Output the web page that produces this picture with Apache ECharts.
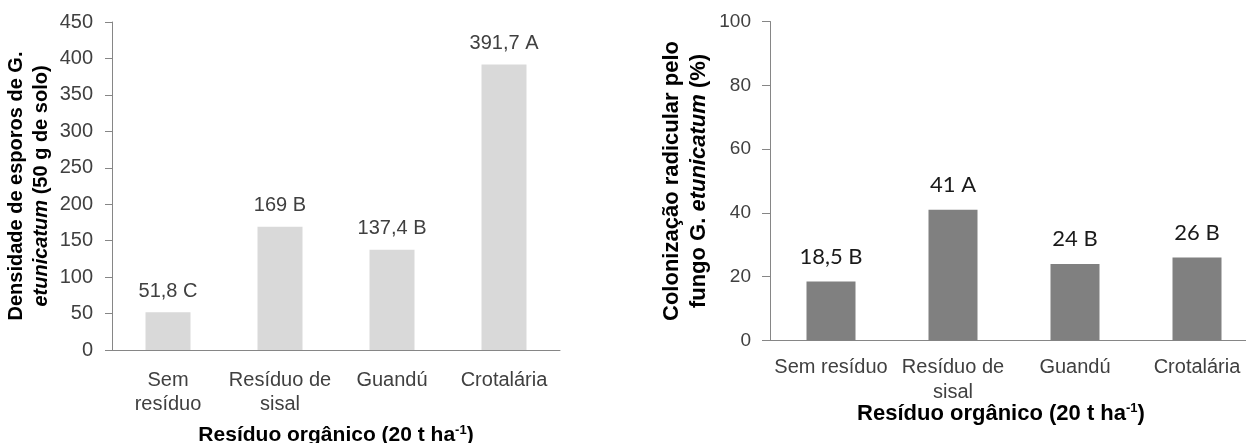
<!DOCTYPE html>
<html>
<head>
<meta charset="utf-8">
<script src="https://cdn.jsdelivr.net/npm/echarts@6/dist/echarts.min.js"></script>
<style>
html,body{margin:0;padding:0;background:#fff;}
#c{width:1246px;height:443px;}
</style>
</head>
<body>
<div id="c"></div>
<script>
// ---- data ----
const categoriesLeft = ['Sem\nresíduo', 'Resíduo de\nsisal', 'Guandú', 'Crotalária'];
const categoriesRight = ['Sem resíduo', 'Resíduo de\nsisal', 'Guandú', 'Crotalária'];
const sporeDensity = [51.8, 169, 137.4, 391.7];
const sporeLetters = ['C', 'B', 'B', 'A'];
const colonization = [18.5, 41, 24, 26];
const colonizationLetters = ['B', 'A', 'B', 'B'];
const leftTicks = { min: 0, max: 450, interval: 50 };
const rightTicks = { min: 0, max: 100, interval: 20 };

const fmt = v => String(v).replace('.', ',');
const AR = '"Liberation Sans", Arial, sans-serif';
const axisGray = '#868686';

const chart = echarts.init(document.getElementById('c'));
chart.setOption({
  animation: false,
  backgroundColor: '#fff',
  grid: [
    { left: 112, top: 22, width: 448, height: 328, containLabel: false, outerBoundsMode: 'none' },
    { left: 770, top: 21.5, width: 488, height: 319, containLabel: false, outerBoundsMode: 'none' }
  ],
  xAxis: [
    {
      gridIndex: 0, type: 'category', data: categoriesLeft,
      axisLine: { lineStyle: { color: axisGray } },
      axisTick: { show: false },
      axisLabel: { interval: 0, fontFamily: AR, fontSize: 20, color: '#404040', margin: 18, lineHeight: 24 },
      name: 'Resíduo orgânico (20 t ha{sup|-1})',
      nameLocation: 'middle', nameGap: 74, nameMoveOverlap: false,
      nameTextStyle: { fontFamily: AR, fontSize: 21, fontWeight: 'bold', color: '#000',
        rich: { sup: { fontFamily: AR, fontSize: 13, fontWeight: 'bold', color: '#000', padding: [0, 0, 10, 0] } } }
    },
    {
      gridIndex: 1, type: 'category', data: categoriesRight,
      axisLine: { lineStyle: { color: axisGray } },
      axisTick: { show: false },
      axisLabel: { interval: 0, fontFamily: AR, fontSize: 20, color: '#404040', margin: 14, lineHeight: 25 },
      name: 'Resíduo orgânico (20 t ha{sup|-1})',
      nameLocation: 'middle', nameGap: 61, nameMoveOverlap: false,
      nameTextStyle: { fontFamily: AR, fontSize: 22, fontWeight: 'bold', color: '#000', padding: [0, 26, 0, 0],
        rich: { sup: { fontFamily: AR, fontSize: 13, fontWeight: 'bold', color: '#000', padding: [0, 0, 11, 0] } } }
    }
  ],
  yAxis: [
    {
      gridIndex: 0, type: 'value', min: leftTicks.min, max: leftTicks.max, interval: leftTicks.interval,
      splitLine: { show: false },
      axisLine: { show: true, lineStyle: { color: axisGray } },
      axisTick: { show: true, length: 7, lineStyle: { color: axisGray } },
      axisLabel: { fontFamily: AR, fontSize: 20, color: '#404040', margin: 19 },
      name: 'Densidade de esporos de G.\n{i|etunicatum} (50 g de solo)',
      nameLocation: 'middle', nameRotate: 90, nameGap: 58, nameMoveOverlap: false,
      nameTextStyle: { fontFamily: AR, fontSize: 20, fontWeight: 'bold', color: '#000', lineHeight: 25,
        rich: { i: { fontFamily: AR, fontSize: 20, fontWeight: 'bold', fontStyle: 'italic', color: '#000', lineHeight: 25 } } }
    },
    {
      gridIndex: 1, type: 'value', min: rightTicks.min, max: rightTicks.max, interval: rightTicks.interval,
      splitLine: { show: false },
      axisLine: { show: true, lineStyle: { color: axisGray } },
      axisTick: { show: true, length: 8, lineStyle: { color: axisGray } },
      axisLabel: { fontFamily: AR, fontSize: 19, color: '#404040', margin: 19 },
      name: 'Colonização radicular pelo\nfungo G. {i|etunicatum} (%)',
      nameLocation: 'middle', nameRotate: 90, nameGap: 58, nameMoveOverlap: false,
      nameTextStyle: { fontFamily: AR, fontSize: 22, fontWeight: 'bold', color: '#000', lineHeight: 27,
        rich: { i: { fontFamily: AR, fontSize: 22, fontWeight: 'bold', fontStyle: 'italic', color: '#000', lineHeight: 27 } } }
    }
  ],
  series: [
    {
      type: 'bar', xAxisIndex: 0, yAxisIndex: 0, data: sporeDensity, barWidth: 45,
      itemStyle: { color: '#d9d9d9' },
      label: { show: true, position: 'top', distance: 11, fontFamily: AR, fontSize: 20, color: '#404040',
        formatter: p => fmt(p.value) + ' ' + sporeLetters[p.dataIndex] }
    },
    {
      type: 'bar', xAxisIndex: 1, yAxisIndex: 1, data: colonization, barWidth: 49,
      itemStyle: { color: '#808080' },
      label: { show: true, position: 'top', distance: 14, fontFamily: 'Lato, "Open Sans", sans-serif', fontSize: 22, color: '#1a1a1a',
        formatter: p => fmt(p.value) + ' ' + colonizationLetters[p.dataIndex] }
    }
  ]
});
</script>
</body>
</html>
